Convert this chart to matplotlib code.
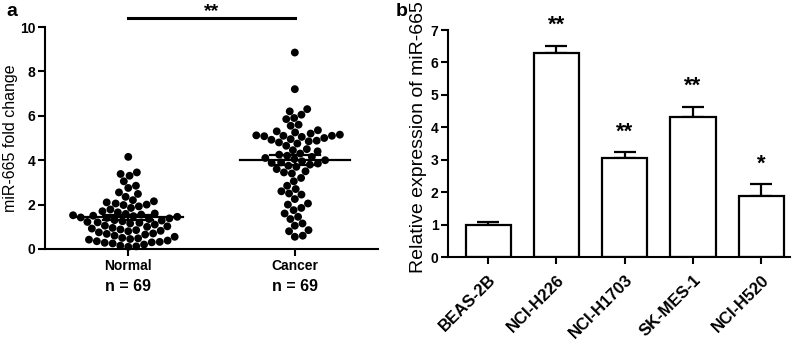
import numpy as np
import matplotlib
matplotlib.use("Agg")
import matplotlib.pyplot as plt

plt.rcParams['font.family'] = ['Liberation Sans', 'DejaVu Sans']

# ---------------- data ----------------
# panel a: individual fold changes
normal_vals = [4.15, 3.45, 3.38, 3.3, 3.05, 2.85, 2.75, 2.55, 2.48, 2.35,
               2.2, 2.15, 2.1, 2.05, 2.0, 1.98, 1.92, 1.85, 1.78, 1.7,
               1.65, 1.6, 1.58, 1.55, 1.52, 1.5, 1.48, 1.45, 1.42, 1.4,
               1.38, 1.35, 1.3, 1.28, 1.25, 1.22, 1.2, 1.18, 1.15, 1.1,
               1.05, 1.02, 1.0, 0.95, 0.92, 0.88, 0.85, 0.82, 0.8, 0.75,
               0.7, 0.68, 0.65, 0.6, 0.55, 0.5, 0.48, 0.45, 0.42, 0.38,
               0.35, 0.32, 0.3, 0.28, 0.25, 0.2, 0.15, 0.12, 0.1]
cancer_vals = [8.85, 7.2, 6.3, 6.2, 6.05, 5.9, 5.85, 5.6, 5.55, 5.35,
               5.3, 5.25, 5.2, 5.15, 5.12, 5.1, 5.1, 5.08, 5.05, 5.0,
               4.95, 4.92, 4.88, 4.85, 4.8, 4.75, 4.65, 4.5, 4.4, 4.3,
               4.25, 4.2, 4.15, 4.1, 4.05, 4.0, 3.95, 3.9, 3.88, 3.85,
               3.8, 3.75, 3.6, 3.5, 3.45, 3.4, 3.2, 3.05, 2.85, 2.7,
               2.6, 2.5, 2.45, 2.25, 2.05, 2.0, 1.85, 1.75, 1.6, 1.45,
               1.35, 1.15, 1.05, 0.85, 0.8, 0.6, 0.55, 3.7, 4.45]
group_names = ["Normal", "Cancer"]
group_n = ["n = 69", "n = 69"]
group_mean = [1.43, 4.0]
group_sem = [0.12, 0.22]

# panel b: cell lines
cell_lines = ["BEAS-2B", "NCI-H226", "NCI-H1703", "SK-MES-1", "NCI-H520"]
rel_expr = [1.0, 6.3, 3.05, 4.33, 1.87]
rel_err = [0.09, 0.22, 0.18, 0.31, 0.38]
stars = ["", "**", "**", "**", "*"]


def swarm(vals, d_px, px_x, px_y):
    """simple beeswarm: returns x offsets (data units)"""
    order = np.argsort(vals)
    ys = np.asarray(vals) * px_y
    placed = []
    offs = np.zeros(len(vals))
    for i in order:
        y = ys[i]
        cands = [0.0]
        near = [(x, yy) for x, yy in placed if abs(yy - y) < d_px]
        for x, yy in near:
            dx = np.sqrt(d_px**2 - (yy - y)**2)
            cands += [x + dx, x - dx]
        cands.sort(key=abs)
        for c in cands:
            if all((c - x)**2 + (y - yy)**2 >= d_px**2 - 1e-6 for x, yy in near):
                break
        placed.append((c, y))
        offs[i] = c / px_x
    return offs


fig = plt.figure(figsize=(7.96, 3.41), dpi=100)

# =============== panel a ===============
ax1 = fig.add_axes([0.0565, 0.2698, 0.4185, 0.651])
ax1.set_xlim(-0.5, 1.5)
ax1.set_ylim(0, 10)
bb = ax1.get_window_extent()
px_x = bb.width / 2.0
px_y = bb.height / 10.0

for k, vals in enumerate([normal_vals, cancer_vals]):
    offs = swarm(vals, 8.0, px_x, px_y)
    ax1.scatter(k + offs, vals, s=32, color='black', edgecolor='none',
                zorder=2, clip_on=False)
    m, s = group_mean[k], group_sem[k]
    ax1.plot([k - 0.33, k + 0.33], [m, m], color='black', lw=1.6, zorder=3)
    for yy in (m - s, m + s):
        ax1.plot([k - 0.15, k + 0.15], [yy, yy], color='black', lw=1.6, zorder=3)
    ax1.plot([k, k], [m - s, m + s], color='black', lw=1.6, zorder=3)

ax1.set_xticks([0, 1])
ax1.set_xticklabels(group_names, fontweight='bold', fontsize=10)
for k, t in enumerate(group_n):
    ax1.text(k, -0.168, t, transform=ax1.get_xaxis_transform(),
             ha='center', va='center', fontsize=11.5, fontweight='bold')
ax1.set_yticks(range(0, 11, 2))
ax1.set_yticklabels([str(v) for v in range(0, 11, 2)], fontweight='bold', fontsize=10)
ax1.set_ylabel("miR-665 fold change", fontsize=11.5)
ax1.yaxis.set_label_coords(-0.082, 0.5)

# significance bar
ax1.plot([0, 1], [10.4, 10.4], color='black', lw=2.2, clip_on=False)
ax1.text(0.5, 10.5, "**", ha='center', va='baseline', fontsize=14, fontweight='bold')

# =============== panel b ===============
ax2 = fig.add_axes([0.563, 0.246, 0.4295, 0.666])
x = np.arange(len(cell_lines))
ax2.bar(x, rel_expr, width=0.66, color='white', edgecolor='black', linewidth=1.6,
        zorder=2)
ax2.errorbar(x, rel_expr, yerr=[np.zeros(len(x)), rel_err], fmt='none',
             ecolor='black', elinewidth=1.6, capsize=8, capthick=1.6, zorder=1)
for xi, v, e, st in zip(x, rel_expr, rel_err, stars):
    if st:
        ax2.text(xi, v + e + 0.3, st, ha='center', va='bottom',
                 fontsize=16, fontweight='bold')
ax2.set_xlim(-0.585, 4.42)
ax2.set_ylim(0, 7)
ax2.set_xticks(x)
ax2.set_xticklabels(cell_lines, rotation=45, ha='right', rotation_mode='anchor',
                    fontweight='bold', fontsize=12)
ax2.set_yticks(range(0, 8))
ax2.set_yticklabels([str(v) for v in range(0, 8)], fontweight='bold', fontsize=10)
ax2.set_ylabel("Relative expression of miR-665", fontsize=14)
ax2.yaxis.set_label_coords(-0.062, 0.53)

for ax in (ax1, ax2):
    for sp in ('top', 'right'):
        ax.spines[sp].set_visible(False)
    for sp in ('left', 'bottom'):
        ax.spines[sp].set_linewidth(1.5)
    ax.tick_params(direction='out', length=5, width=1.5, pad=2)
ax2.tick_params(axis='x', pad=6)

fig.text(0.008, 0.965, "a", fontsize=14, fontweight='bold', va='center')
fig.text(0.497, 0.965, "b", fontsize=14, fontweight='bold', va='center')

fig.savefig("out.png", dpi=100)
